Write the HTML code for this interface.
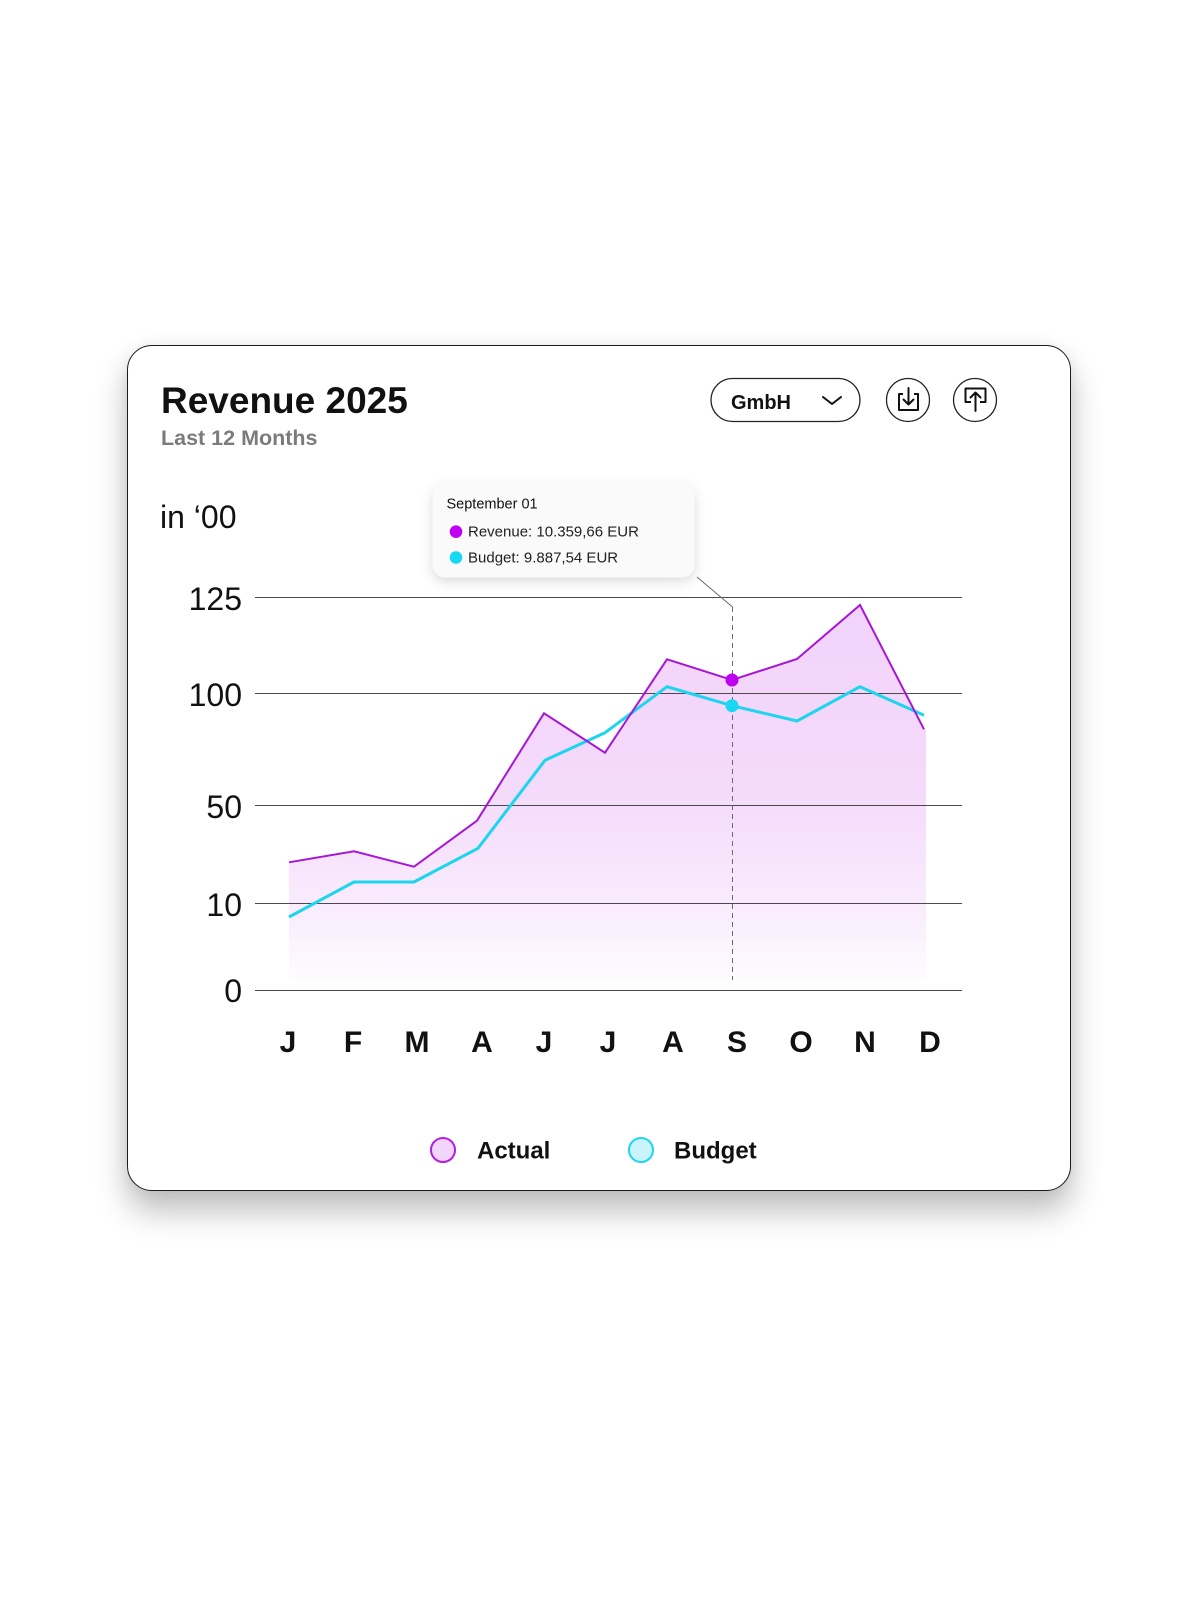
<!DOCTYPE html>
<html>
<head>
<meta charset="utf-8">
<style>
  html, body { margin:0; padding:0; background:#ffffff; }
  body { width:1200px; height:1600px; position:relative; overflow:hidden; font-family:"Liberation Sans", Arial, sans-serif; }
  .card {
    position:absolute; left:127px; top:345px; width:942px; height:844px;
    border:1.5px solid #1c1c1c; border-radius:25px; background:#fff;
    box-shadow: 0 20px 32px rgba(0,0,0,0.26), 0 0 14px rgba(0,0,0,0.06);
  }
  svg { position:absolute; left:0; top:0; }
  text { font-family:"Liberation Sans", Arial, sans-serif; }
</style>
</head>
<body>
<div class="card"></div>
<svg width="1200" height="1600" viewBox="0 0 1200 1600" xmlns="http://www.w3.org/2000/svg">
  <defs>
    <linearGradient id="fillg" gradientUnits="userSpaceOnUse" x1="0" y1="600" x2="0" y2="980">
      <stop offset="0" stop-color="#f2d3fa"/>
      <stop offset="0.5" stop-color="#f4dafb"/>
      <stop offset="0.78" stop-color="#f9eafd"/>
      <stop offset="1" stop-color="#fefbff"/>
    </linearGradient>
    <filter id="tshadow" x="-20%" y="-30%" width="140%" height="170%">
      <feDropShadow dx="0" dy="4" stdDeviation="6" flood-color="#000" flood-opacity="0.14"/>
    </filter>
  </defs>

  <!-- Header -->
  <text x="161" y="413" font-size="37" font-weight="bold" fill="#111">Revenue 2025</text>
  <text x="161" y="445" font-size="21.5" font-weight="bold" fill="#7b7b7b">Last 12 Months</text>

  <!-- Pill -->
  <rect x="711" y="378.5" width="149" height="43" rx="21.5" fill="#fff" stroke="#222" stroke-width="1.3"/>
  <text x="731" y="409" font-size="20" font-weight="bold" fill="#111">GmbH</text>
  <polyline points="823,397 832,404 841,397" fill="none" stroke="#111" stroke-width="2" stroke-linecap="round" stroke-linejoin="round"/>

  <!-- Download icon -->
  <circle cx="908" cy="400" r="21.5" fill="#fff" stroke="#222" stroke-width="1.3"/>
  <path d="M903 394 H899 V410 H918 V394 H914" fill="none" stroke="#111" stroke-width="2" stroke-linejoin="round"/>
  <path d="M908.5 388 V404 M903.5 399.5 L908.5 404.5 L913.5 399.5" fill="none" stroke="#111" stroke-width="2" stroke-linecap="round" stroke-linejoin="round"/>

  <!-- Upload icon -->
  <circle cx="975" cy="400" r="21.5" fill="#fff" stroke="#222" stroke-width="1.3"/>
  <path d="M971 402 H965.5 V388.5 H985.5 V402 H980" fill="none" stroke="#111" stroke-width="2" stroke-linejoin="round"/>
  <path d="M975.5 411 V393 M970.5 397.5 L975.5 392.5 L980.5 397.5" fill="none" stroke="#111" stroke-width="2" stroke-linecap="round" stroke-linejoin="round"/>

  <!-- Units -->
  <text x="160" y="528" font-size="32" fill="#111">in ‘00</text>

  <!-- Area fill -->
  <polygon fill="url(#fillg)" points="289,862.3 354,851.3 414,866.7 477,820.7 544,713.3 605,752.7 667,659.3 732,680 797,659 860,605 924,729.3 926,729.3 926,980 289,980"/>

  <!-- Gridlines -->
  <g stroke="#4a4a4a" stroke-width="1">
    <line x1="255" y1="597.5" x2="962" y2="597.5"/>
    <line x1="255" y1="693.5" x2="962" y2="693.5"/>
    <line x1="255" y1="805.5" x2="962" y2="805.5"/>
    <line x1="255" y1="903.5" x2="962" y2="903.5"/>
    <line x1="255" y1="990.5" x2="962" y2="990.5"/>
  </g>

  <!-- Y labels -->
  <g font-size="32" fill="#111" text-anchor="end">
    <text x="242" y="610">125</text>
    <text x="242" y="706">100</text>
    <text x="242" y="818">50</text>
    <text x="242" y="916">10</text>
    <text x="242" y="1002">0</text>
  </g>

  <!-- Dashed hover line -->
  <line x1="732.5" y1="607" x2="732.5" y2="980" stroke="#6a6a6a" stroke-width="1" stroke-dasharray="5 4"/>
  <line x1="697" y1="577" x2="732.5" y2="607" stroke="#6a6a6a" stroke-width="1"/>

  <!-- Budget line -->
  <polyline fill="none" stroke="#1cd5ee" stroke-width="3" stroke-linejoin="round" points="289,917 354,882 414,882 478,848.3 545,760.3 605,732.7 667,686.7 732,705.7 797,721 860,686.7 924,715.3"/>
  <!-- Actual line -->
  <polyline fill="none" stroke="#a716d6" stroke-width="2" stroke-linejoin="miter" points="289,862.3 354,851.3 414,866.7 477,820.7 544,713.3 605,752.7 667,659.3 732,680 797,659 860,605 924,729.3"/>

  <!-- Hover dots -->
  <circle cx="732" cy="680" r="6.5" fill="#c000f2"/>
  <circle cx="732" cy="705.7" r="6.5" fill="#18d8f2"/>

  <!-- Tooltip -->
  <rect x="432.5" y="483.5" width="262" height="94" rx="13" fill="#fafafa" filter="url(#tshadow)"/>
  <text x="446.5" y="508.5" font-size="14.5" fill="#111">September 01</text>
  <circle cx="456" cy="531.7" r="6.3" fill="#c000f2"/>
  <text x="468" y="536.5" font-size="15" fill="#222">Revenue: 10.359,66 EUR</text>
  <circle cx="456" cy="557.5" r="6.3" fill="#18d8f2"/>
  <text x="468" y="562.5" font-size="15" fill="#222">Budget: 9.887,54 EUR</text>

  <!-- X labels -->
  <g font-size="30" font-weight="bold" fill="#111" text-anchor="middle">
    <text x="288" y="1052">J</text>
    <text x="353" y="1052">F</text>
    <text x="417" y="1052">M</text>
    <text x="482" y="1052">A</text>
    <text x="544" y="1052">J</text>
    <text x="608" y="1052">J</text>
    <text x="673" y="1052">A</text>
    <text x="737" y="1052">S</text>
    <text x="801" y="1052">O</text>
    <text x="865" y="1052">N</text>
    <text x="930" y="1052">D</text>
  </g>

  <!-- Legend -->
  <circle cx="443" cy="1150" r="12" fill="#f2d5fa" stroke="#b31ee0" stroke-width="2"/>
  <text x="477" y="1158.5" font-size="24" font-weight="bold" fill="#111">Actual</text>
  <circle cx="641" cy="1150" r="12" fill="#c9f4fb" stroke="#1cd6ee" stroke-width="2"/>
  <text x="674" y="1158.5" font-size="24" font-weight="bold" fill="#111">Budget</text>
</svg>
</body>
</html>
